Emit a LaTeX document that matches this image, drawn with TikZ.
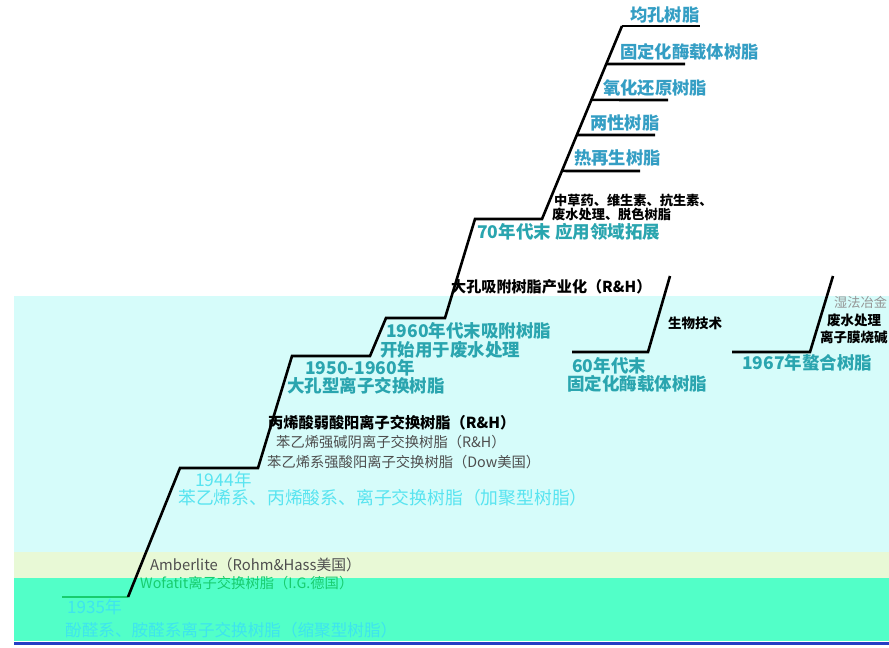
\documentclass[tikz,border=0pt]{standalone}
\usepackage{fontspec}
\setmainfont{Noto Sans CJK SC}
\usetikzlibrary{calc}
\definecolor{bgcyan}{RGB}{214,252,250}
\definecolor{bgpale}{RGB}{232,249,214}
\definecolor{bggreen}{RGB}{82,255,200}
\definecolor{baseblue}{RGB}{36,62,196}
\definecolor{tealc}{RGB}{42,165,175}
\definecolor{fanc}{RGB}{52,158,196}
\definecolor{cyanc}{RGB}{88,228,240}
\definecolor{grayc}{RGB}{78,78,78}
\definecolor{greenc}{RGB}{24,205,110}
\definecolor{lowc}{RGB}{62,228,238}
\begin{document}
\begin{tikzpicture}
        [x=1pt, y=-1pt,
        stair/.style={line width=2.6pt, line join=miter},
        tealtxt/.style={anchor=west, inner sep=0pt, text=tealc, font=\fontsize{17.5}{18.5}\selectfont\bfseries},
        fantxt/.style={anchor=west, inner sep=0pt, text=fanc, font=\fontsize{17.3}{18.5}\selectfont\bfseries},
        graytxt/.style={anchor=west, inner sep=0pt, text=grayc, font=\fontsize{14.3}{15}\selectfont},
        darktxt/.style={anchor=west, inner sep=0pt, font=\fontsize{13.5}{15}\selectfont\bfseries}]
        \clip (0,0) rectangle (889,648);
        % backgrounds
        \fill[white] (0,0) rectangle (889,648);
        \fill[bgcyan] (14,296) rectangle (889,552);
        \fill[bgpale] (14,552) rectangle (889,578);
        \fill[bggreen] (14,578) rectangle (889,641);
        \fill[baseblue] (14,641.5) rectangle (889,645);
        
        % main staircase
        \coordinate (s0) at (62,597);
        \coordinate (s1) at (128,597);
        \coordinate (s2) at (180,468);
        \coordinate (s3) at (258,468);
        \coordinate (s4) at (292,356);
        \coordinate (s5) at (370,356);
        \coordinate (s6) at (386,318);
        \coordinate (s7) at (445,318);
        \coordinate (s8) at (475,219);
        \coordinate (s9) at (542,219);
        \coordinate (top) at (622,26);
        \draw[stair, greenc] (s0) -- (s1);
        \draw[stair] (s1) -- (s2) -- (s3) -- (s4) -- (s5) -- (s6) -- (s7) -- (s8) -- (s9) -- (top);
        
        % fan of late resins
        \coordinate (f1) at ($(s9)!0.249!(top)$);
        \coordinate (f2) at ($(s9)!0.435!(top)$);
        \coordinate (f3) at ($(s9)!0.617!(top)$);
        \coordinate (f4) at ($(s9)!0.803!(top)$);
        \draw[stair] (f1) -- (640,171);
        \draw[stair] (f2) -- (655,135);
        \draw[stair] (f3) -- (668,100);
        \draw[stair] (f4) -- (685,64);
        \draw[stair] (top) -- (700,26);
        
        % side branches
        \coordinate (b1) at (572,352);
        \coordinate (b2) at (648,352);
        \coordinate (b3) at (670,276);
        \draw[stair] (b1) -- (b2) -- (b3);
        \coordinate (c1) at (732,352);
        \coordinate (c2) at (810,352);
        \coordinate (c3) at (833,276);
        \draw[stair] (c1) -- (c2) -- (c3);
        
        % labels
        \node[anchor=west, inner sep=0pt, text=lowc, font=\fontsize{17}{18}\selectfont] (t1935) at (67,607) {1935年};
        \node[anchor=west, inner sep=0pt, text=lowc, font=\fontsize{16.6}{18}\selectfont] (t1935b) at (65,630) {酚醛系、胺醛系离子交换树脂（缩聚型树脂）};
        \node[anchor=west, inner sep=0pt, text=greenc, font=\fontsize{14.3}{15}\selectfont] (twof) at (140,583) {Wofatit离子交换树脂（I.G.德国）};
        \node[graytxt, font=\fontsize{14.8}{15}\selectfont] (tamb) at (150,565) {Amberlite（Rohm\&Hass美国）};
        \node[anchor=west, inner sep=0pt, text=cyanc, font=\fontsize{17.5}{18}\selectfont] (t1944) at (195,480) {1944年};
        \node[anchor=west, inner sep=0pt, text=cyanc, font=\fontsize{17.8}{18}\selectfont] (t1944b) at (178,498) {苯乙烯系、丙烯酸系、离子交换树脂（加聚型树脂）};
        \node[graytxt] (tdow) at (267,462) {苯乙烯系强酸阳离子交换树脂（Dow美国）};
        \node[graytxt] (trh) at (276,442) {苯乙烯强碱阴离子交换树脂（R\&H）};
        \node[darktxt, font=\fontsize{15.2}{15}\selectfont\bfseries] (tacryl) at (268,423) {丙烯酸弱酸阳离子交换树脂（R\&H）};
        \node[tealtxt] (t1950) at (305,368) {1950-1960年};
        \node[tealtxt] (t1950b) at (287,386) {大孔型离子交换树脂};
        \node[tealtxt] (t1960) at (386,331) {1960年代末吸附树脂};
        \node[tealtxt] (t1960b) at (380,350) {开始用于废水处理};
        \node[darktxt, font=\fontsize{15.1}{15}\selectfont\bfseries] (tmacro) at (451,287) {大孔吸附树脂产业化（R\&H）};
        \node[tealtxt] (t70s) at (477,232) {70年代末 应用领域拓展};
        \node[darktxt, font=\fontsize{13.2}{11.8}\selectfont\bfseries, align=left] (tuse) at (552,207.5) {\hspace*{2pt}中草药、维生素、抗生素、\\废水处理、脱色树脂};
        \node[fantxt] (theat) at (574,158) {热再生树脂};
        \node[fantxt] (tamph) at (590,123) {两性树脂};
        \node[fantxt] (tredox) at (603,88) {氧化还原树脂};
        \node[fantxt] (tenz) at (620,52) {固定化酶载体树脂};
        \node[fantxt] (tiso) at (630,15) {均孔树脂};
        \node[tealtxt] (t60s) at (572,366) {60年代末};
        \node[tealtxt] (t60sb) at (567,384) {固定化酶载体树脂};
        \node[darktxt] (tbio) at (668,323) {生物技术};
        \node[tealtxt] (t1967) at (742,363) {1967年螯合树脂};
        \node[graytxt, text=grayc!60, font=\fontsize{13.2}{15}\selectfont] (twet) at (834,302) {湿法冶金};
        \node[darktxt] (twaste) at (827,320) {废水处理};
        \node[darktxt] (tion) at (820,337) {离子膜烧碱};
    \end{tikzpicture}
\end{document}
